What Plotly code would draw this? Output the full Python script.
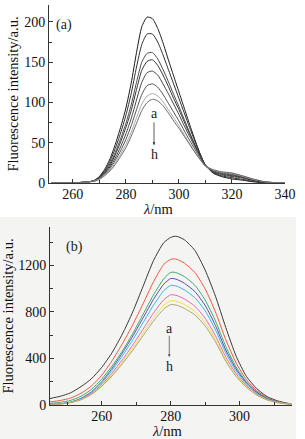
import plotly.graph_objects as go

# ---------------- Panel (a) data ----------------
wl_a = [252, 262, 266, 268, 270, 272, 274, 276, 278, 280, 282, 284, 286, 288, 290,
        292, 294, 296, 298, 300, 302, 304, 306, 308, 310, 313, 316, 320, 324, 328,
        332, 336, 340]
a_a = [0, 0.5, 1.5, 3, 8, 17, 30, 48, 69, 93, 124, 162, 194, 206, 204,
       192, 174, 153, 133, 113, 93, 73, 54, 36, 22, 12, 8, 5, 3.5, 1.5, 0.5, 0.2, 0]
a_b = [0, 0.5, 1.5, 3, 7.5, 15, 27, 43, 62, 84, 111, 144, 172, 185, 185,
       175, 159, 141, 123, 105, 87, 69, 52, 36, 22, 13, 9, 6.5, 4.5, 2, 0.7, 0.2, 0]
a_c = [0, 0.5, 1.5, 3, 7, 14, 24, 38, 55, 74, 97, 125, 150, 161, 162,
       154, 141, 126, 110, 95, 79, 63, 48, 34, 22, 13.5, 10, 8, 6, 3, 1, 0.3, 0]
a_d = [0, 0.5, 1.5, 3, 6.5, 13, 22, 35, 51, 69, 90, 116, 140, 151, 153,
       146, 134, 120, 105, 91, 76, 61, 47, 34, 22, 14, 11, 9, 7, 3.5, 1.2, 0.3, 0]
a_e = [0, 0.5, 1.5, 2.5, 6, 12, 20, 31, 45, 61, 80, 103, 125, 137, 139,
       134, 123, 111, 98, 85, 71, 58, 45, 33, 22, 15, 12, 10, 7.5, 4, 1.4, 0.4, 0]
a_f = [0, 0.5, 1.5, 2.5, 5.5, 11, 18, 28, 40, 54, 71, 91, 110, 121, 123,
       119, 110, 99, 88, 77, 65, 53, 42, 31, 21, 15.5, 13, 11, 8, 4.5, 1.6, 0.4, 0]
a_g = [0, 0.5, 1.5, 2.5, 5, 10, 16, 25, 36, 48, 63, 81, 98, 108, 111,
       108, 101, 91, 81, 71, 60, 49, 39, 29, 21, 16, 13.5, 12, 8.5, 4.5, 1.7, 0.5, 0]
a_h = [0, 0.5, 1.5, 2, 4.5, 9, 15, 23, 33, 44, 58, 74, 90, 100, 104,
       102, 96, 87, 77, 68, 58, 48, 38, 29, 21, 16.5, 14, 12.5, 9, 5, 1.8, 0.5, 0]
series_a = [a_a, a_b, a_c, a_d, a_e, a_f, a_g, a_h]
colors_a = ["#1a1a1a", "#2e2e2e", "#4a4a4a", "#333333", "#444444", "#505050", "#a8a8a8", "#6a6a6a"]

# ---------------- Panel (b) data ----------------
wl_b = [245, 248, 251, 254, 257, 260, 263, 266, 269, 272, 275, 278, 280, 281, 282,
        284, 287, 290, 293, 296, 299, 302, 305, 308, 311, 315]
b_a = [56, 75, 105, 158, 225, 323, 450, 610, 800, 1020, 1240, 1395, 1440, 1450, 1448,
       1420, 1330, 1160, 935, 665, 420, 245, 140, 72, 36, 8]
b_b = [27, 39, 60, 101, 163, 256, 380, 527, 690, 870, 1058, 1209, 1252, 1256, 1250,
       1219, 1140, 998, 800, 561, 361, 216, 123, 63, 30, 7]
b_c = [14, 23, 40, 75, 134, 223, 335, 465, 615, 780, 945, 1085, 1140, 1141, 1133,
       1103, 1030, 902, 722, 502, 327, 198, 112, 57, 27, 7]
b_d = [5, 10, 25, 57, 113, 201, 315, 447, 592, 749, 907, 1039, 1087, 1086, 1077,
       1046, 976, 856, 683, 472, 309, 189, 107, 54, 25, 7]
b_e = [4, 10, 24, 54, 107, 190, 298, 423, 560, 708, 857, 983, 1028, 1027, 1019,
       989, 923, 810, 646, 447, 292, 179, 101, 51, 24, 6]
b_f = [3, 9, 22, 49, 99, 175, 275, 389, 516, 652, 790, 905, 947, 946, 939,
       911, 850, 746, 595, 411, 269, 165, 93, 47, 22, 6]
b_g = [3, 8, 21, 47, 93, 166, 260, 369, 489, 618, 748, 858, 897, 896, 889,
       863, 806, 707, 564, 390, 255, 156, 88, 45, 21, 5]
b_h = [3, 8, 20, 45, 90, 160, 250, 355, 470, 595, 720, 825, 863, 862, 855,
       830, 775, 680, 543, 375, 245, 150, 85, 43, 20, 5]
series_b = [b_a, b_b, b_c, b_d, b_e, b_f, b_g, b_h]
colors_b = ["#3a3a3a", "#f0583a", "#3aaa70", "#5a4aa8", "#30b8e8", "#e866b0", "#f0e040", "#a8a47a"]

labels = ["a", "b", "c", "d", "e", "f", "g", "h"]

FONT = "Liberation Serif"

fig = go.Figure()
for lab, ys, col in zip(labels, series_a, colors_a):
    fig.add_trace(go.Scatter(x=wl_a, y=ys, mode="lines", name=lab,
                             line=dict(color=col, width=1, shape="spline", smoothing=0.6),
                             xaxis="x", yaxis="y", showlegend=False))
for lab, ys, col in zip(labels, series_b, colors_b):
    fig.add_trace(go.Scatter(x=wl_b, y=ys, mode="lines", name=lab,
                             line=dict(color=col, width=1, shape="spline", smoothing=0.6),
                             xaxis="x2", yaxis="y2", showlegend=False))

W, H = 305, 439
def px_x(p):
    return p / W
def px_y(p):
    return 1 - p / H

tickfont = dict(family=FONT, size=14, color="#111")
titlefont = dict(family=FONT, size=14.5, color="#111")
common = dict(showline=True, linecolor="#333", linewidth=1, ticks="inside",
              ticklen=4, tickcolor="#333", showgrid=False, zeroline=False,
              tickfont=tickfont, mirror=False, automargin=False)

fig.update_layout(
    width=W, height=H,
    margin=dict(l=0, r=0, t=0, b=0),
    paper_bgcolor="white",
    plot_bgcolor="rgba(0,0,0,0)",
    font=dict(family=FONT, color="#111"),
    xaxis=dict(domain=[px_x(49), px_x(285)], range=[251, 340], anchor="y",
               tickvals=[260, 280, 300, 320, 340], ticklabelstandoff=-2,
               minor=dict(ticks="inside", ticklen=3, tickcolor="#333", dtick=10, tick0=250),
               **common),
    yaxis=dict(domain=[px_y(183), px_y(5)], range=[0, 221], anchor="x",
               tickvals=[0, 50, 100, 150, 200],
               minor=dict(ticks="inside", ticklen=3, tickcolor="#333", dtick=25, tick0=0),
               title=dict(text="Fluorescence intensity/a.u.", font=titlefont, standoff=2),
               **common),
    xaxis2=dict(domain=[px_x(50), px_x(292)], range=[245, 315.2], anchor="y2",
                tickvals=[260, 280, 300], ticklabelstandoff=-2,
                minor=dict(ticks="inside", ticklen=3, tickcolor="#333", dtick=10, tick0=250),
                **common),
    yaxis2=dict(domain=[px_y(405), px_y(227)], range=[0, 1530], anchor="x2",
                tickvals=[0, 400, 800, 1200],
                minor=dict(ticks="inside", ticklen=3, tickcolor="#333", dtick=200, tick0=0),
                title=dict(text="Fluorescence intensity/a.u.", font=titlefont, standoff=2),
                **common),
    shapes=[dict(type="rect", xref="paper", yref="paper", x0=0, x1=px_x(296),
                 y0=0, y1=px_y(217), fillcolor="#f4f4f2", line=dict(width=0), layer="below")],
)

# x-axis titles placed as paper annotations
fig.add_annotation(x=px_x(158), y=px_y(209), xref="paper", yref="paper", text="<i>λ</i>/nm",
                   showarrow=False, font=titlefont, xanchor="center", yanchor="middle")
fig.add_annotation(x=px_x(167), y=px_y(430.5), xref="paper", yref="paper", text="<i>λ</i>/nm",
                   showarrow=False, font=titlefont, xanchor="center", yanchor="middle")

ann_font = dict(family=FONT, size=14, color="#222")
fig.add_annotation(x=256.5, y=196, xref="x", yref="y", text="(a)", showarrow=False, font=ann_font)
fig.add_annotation(x=290.6, y=86, xref="x", yref="y", text="a", showarrow=False, font=ann_font)
fig.add_annotation(x=290.6, y=36, xref="x", yref="y", text="h", showarrow=False, font=ann_font)
fig.add_annotation(x=290.6, y=47, ax=290.6, ay=77, xref="x", yref="y", axref="x", ayref="y",
                   text="", showarrow=True, arrowhead=2, arrowsize=0.7, arrowwidth=0.8, arrowcolor="#333")

fig.add_annotation(x=252, y=1357, xref="x2", yref="y2", text="(b)", showarrow=False, font=ann_font)
fig.add_annotation(x=279.6, y=658, xref="x2", yref="y2", text="a", showarrow=False, font=ann_font)
fig.add_annotation(x=279.6, y=331, xref="x2", yref="y2", text="h", showarrow=False, font=ann_font)
fig.add_annotation(x=279.6, y=413, ax=279.6, ay=607, xref="x2", yref="y2", axref="x2", ayref="y2",
                   text="", showarrow=True, arrowhead=2, arrowsize=0.7, arrowwidth=0.8, arrowcolor="#555")

fig.write_html("out.html", config={"displayModeBar": False},
               post_script="document.body.style.margin='0';document.body.style.overflow='hidden';")
